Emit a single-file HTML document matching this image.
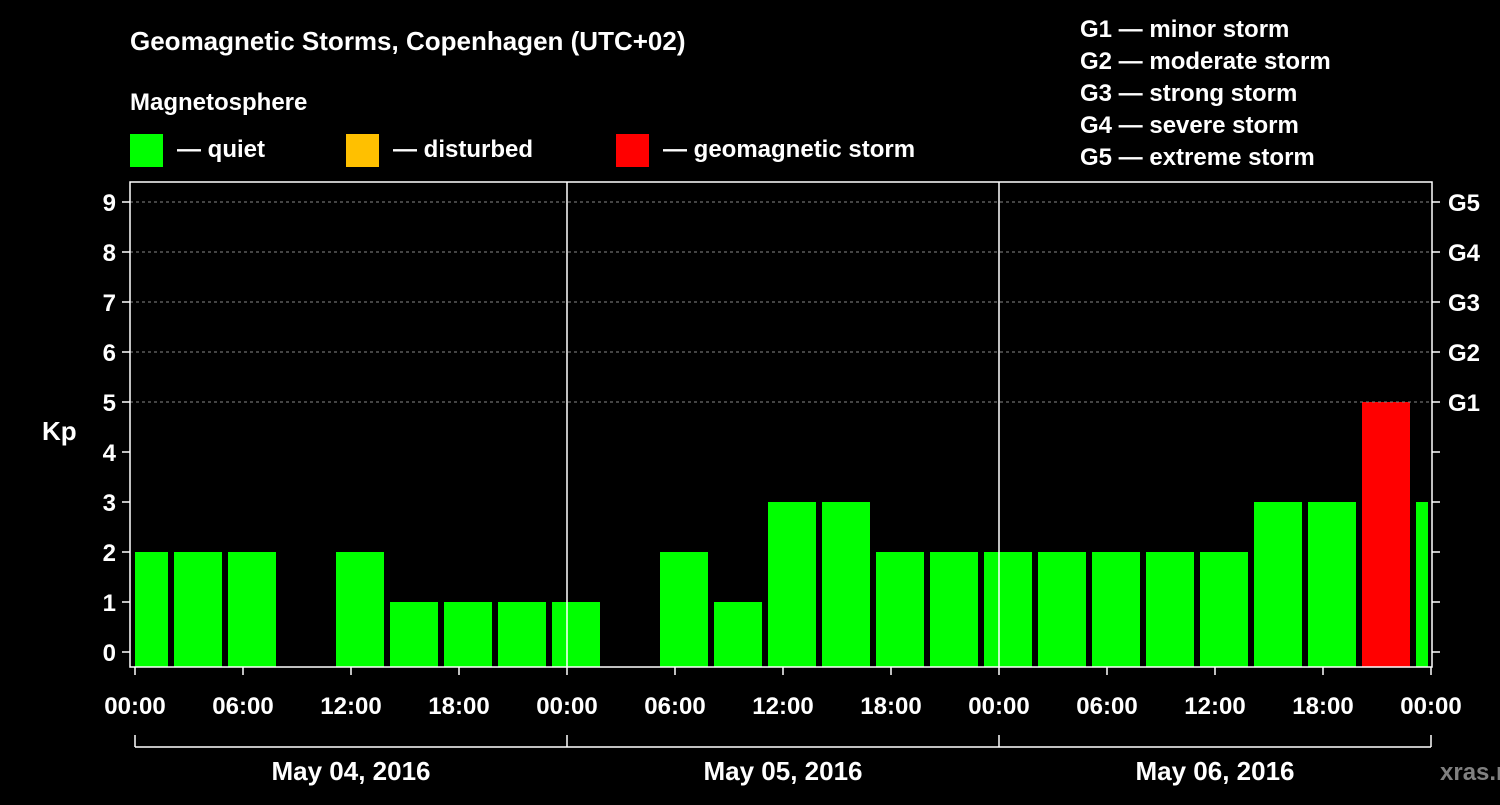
<!DOCTYPE html>
<html><head><meta charset="utf-8"><style>
body{margin:0;background:#000;width:1500px;height:800px;overflow:hidden}
svg text{font-family:"Liberation Sans",Arial,sans-serif;font-weight:bold;fill:#fff}
</style></head><body>
<svg id="c" width="1500" height="800" xmlns="http://www.w3.org/2000/svg">
<text x="130" y="50" font-size="26">Geomagnetic Storms, Copenhagen (UTC+02)</text>
<text x="130" y="110" font-size="24">Magnetosphere</text>
<rect x="130" y="134" width="33" height="33" fill="#00ff00"/>
<text x="177" y="157" font-size="24">— quiet</text>
<rect x="346" y="134" width="33" height="33" fill="#ffc000"/>
<text x="393" y="157" font-size="24">— disturbed</text>
<rect x="616" y="134" width="33" height="33" fill="#ff0000"/>
<text x="663" y="157" font-size="24">— geomagnetic storm</text>
<g font-size="24">
<text x="1080" y="37">G1 — minor storm</text>
<text x="1080" y="69">G2 — moderate storm</text>
<text x="1080" y="101">G3 — strong storm</text>
<text x="1080" y="133">G4 — severe storm</text>
<text x="1080" y="165">G5 — extreme storm</text>
</g>
<text x="42" y="440" font-size="26">Kp</text>
<text x="1440" y="780" font-size="24" style="fill:#808080">xras.ru</text>
<g id="g"></g>
</svg>
<script>
const kpValues=[2,2,2,null,2,1,1,1,1,null,2,1,3,3,2,2,2,2,2,2,2,3,3,5,3];
const yTicks=[0,1,2,3,4,5,6,7,8,9];
const gLabels=["G1","G2","G3","G4","G5"];
const xTickLabels=["00:00","06:00","12:00","18:00","00:00","06:00","12:00","18:00","00:00","06:00","12:00","18:00","00:00"];
const dayLabels=["May 04, 2016","May 05, 2016","May 06, 2016"];
const NS="http://www.w3.org/2000/svg";
const g=document.getElementById('g');
const L=130,R=1432,T=182,B=667,X0=135,DAY=432;
const y=v=>652-50*v;
const xh=h=>X0+h*DAY/24;
function mk(t,a){const e=document.createElementNS(NS,t);for(const k in a)e.setAttribute(k,a[k]);g.appendChild(e);return e;}
// bars
const clip=mk('clipPath',{id:'pc'});
const cr=document.createElementNS(NS,'rect');cr.setAttribute('x',X0);cr.setAttribute('y',T);cr.setAttribute('width',R-4-X0);cr.setAttribute('height',B-T);clip.appendChild(cr);
kpValues.forEach((v,i)=>{
  if(v===null)return;
  const cx=xh(3*i)+9;
  const col=v>=5?'#ff0000':(v>=4?'#ffc000':'#00ff00');
  const b=mk('rect',{x:cx-24,y:y(v),width:48,height:B-y(v),fill:col,'clip-path':'url(#pc)'});
  
  
});
// grid & y ticks
yTicks.forEach(v=>{
  if(v>=5){const d=mk('line',{x1:L,x2:R,y1:y(v),y2:y(v),stroke:'#888','stroke-dasharray':'3,3'});}
  mk('line',{x1:L-8,x2:L,y1:y(v),y2:y(v),stroke:'#fff','stroke-width':1.5});
  mk('line',{x1:R,x2:R+8,y1:y(v),y2:y(v),stroke:'#fff','stroke-width':1.5});
  const t=mk('text',{x:L-14,y:y(v)+9,'font-size':24,'text-anchor':'end'});t.textContent=v;
  
});
gLabels.forEach((s,i)=>{const t=mk('text',{x:R+16,y:y(5+i)+9,'font-size':24});t.textContent=s;
  });
// frame
const f=mk('rect',{x:L,y:T,width:R-L,height:B-T,fill:'none',stroke:'#fff','stroke-width':1.5});

for(let d=1;d<3;d++)mk('line',{x1:X0+d*DAY,x2:X0+d*DAY,y1:T,y2:B,stroke:'#fff','stroke-width':1.5});
// x ticks
xTickLabels.forEach((s,i)=>{const x=xh(6*i);
  mk('line',{x1:x,x2:x,y1:B,y2:B+8,stroke:'#fff','stroke-width':1.5});
  const t=mk('text',{x:x,y:714,'font-size':24,'text-anchor':'middle'});t.textContent=s;
  });
mk('line',{x1:X0,x2:X0+3*DAY,y1:747,y2:747,stroke:'#fff','stroke-width':1.5});
for(let d=0;d<=3;d++)mk('line',{x1:X0+d*DAY,x2:X0+d*DAY,y1:735,y2:747,stroke:'#fff','stroke-width':1.5});
dayLabels.forEach((s,i)=>{const t=mk('text',{x:X0+DAY*(i+0.5),y:780,'font-size':26,'text-anchor':'middle'});t.textContent=s;
  });
</script>
</body></html>
